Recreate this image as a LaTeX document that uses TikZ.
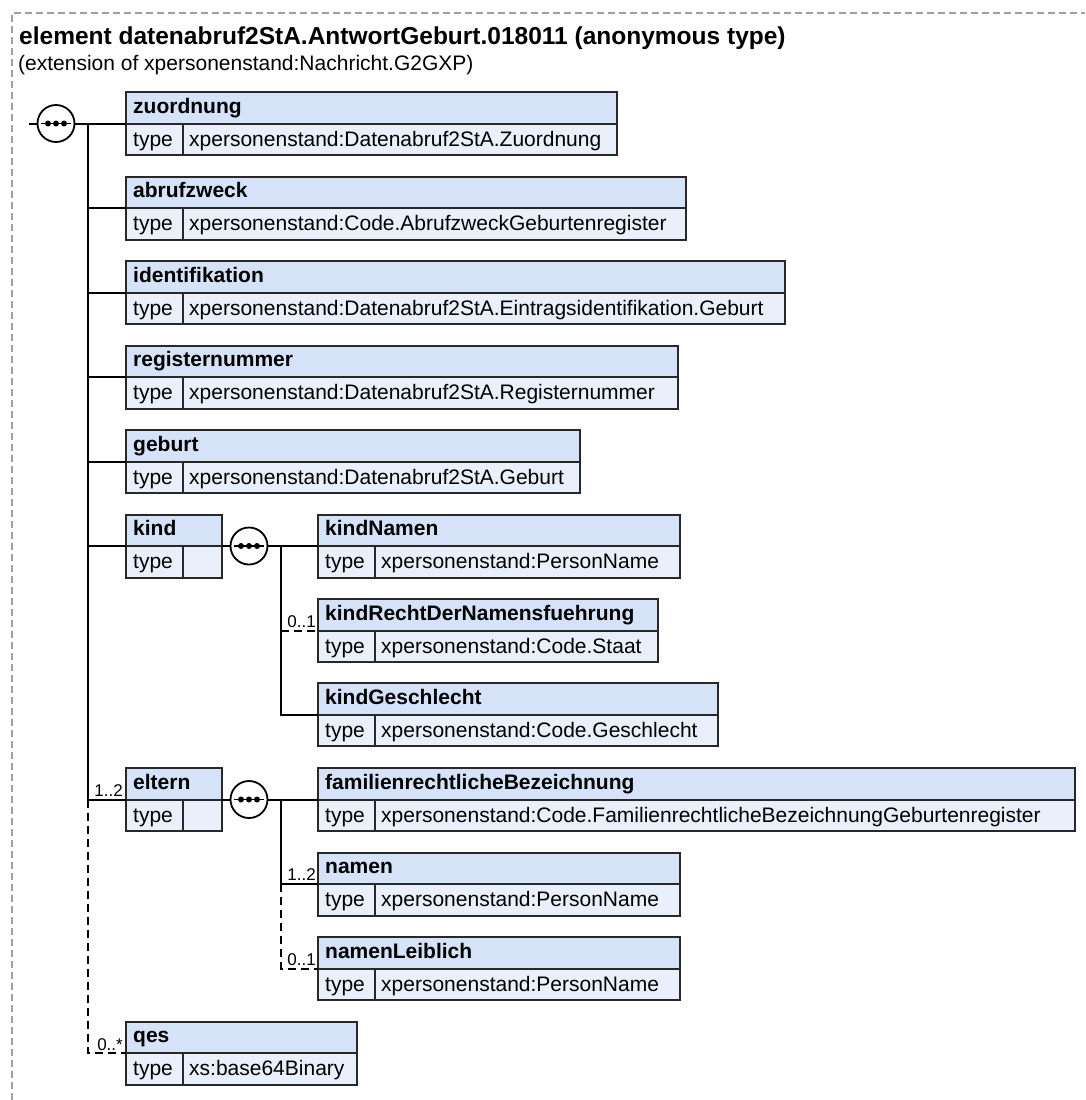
\documentclass[tikz,border=0pt]{standalone}
\usepackage{fontspec}
\setmainfont{Liberation Sans}
\definecolor{hdrfill}{RGB}{214,226,248}
\definecolor{typfill}{RGB}{233,240,251}
\definecolor{boxedge}{RGB}{40,40,40}
\definecolor{outline}{RGB}{160,160,160}
\tikzset{
 boxframe/.style={draw=boxedge, line width=2pt, rectangle, inner sep=0pt, outer sep=0pt},
 divline/.style={draw=boxedge, line width=2pt},
 hdrtext/.style={font=\fontsize{21}{24}\selectfont\bfseries, inner sep=0pt, anchor=base west},
 typtext/.style={font=\fontsize{21}{24}\selectfont, inner sep=0pt, anchor=base west},
 multtext/.style={font=\fontsize{17}{20}\selectfont, inner sep=0pt, anchor=base east},
 conn/.style={line width=2pt, black},
 optconn/.style={conn, dash pattern=on 8pt off 5pt},
 seqcirc/.style={circle, draw=black, fill=white, line width=1.8pt, minimum size=37pt, inner sep=0pt, outer sep=0pt},
 frameline/.style={draw=outline, line width=1.5pt, dash pattern=on 7pt off 4pt},
}
% #1 name, #2 left, #3 top, #4 right, #5 divider, #6 header, #7 type
\newcommand\xsbox[7]{%
  \fill[hdrfill] (#2,#3) rectangle (#4,#3+31.5);
  \fill[typfill] (#2,#3+31.5) rectangle (#4,#3+63);
  \draw[divline] (#2,#3+31.5) -- (#4,#3+31.5);
  \draw[divline] (#5,#3+31.5) -- (#5,#3+63);
  \node[boxframe, anchor=north west, minimum width=#4pt-#2pt, minimum height=63pt] (#1) at (#2,#3) {};
  \node[hdrtext] at (#2+7,#3+21) {#6};
  \node[typtext] at (#2+7,#3+54) {type};
  \node[typtext] at (#5+6,#3+54) {#7};
}
\newcommand\seqsym[3]{%
  \node[seqcirc] (#1) at (#2,#3) {};
  \draw[line width=1.5pt] ([xshift=-15pt]#1.center) -- ([xshift=15pt]#1.center);
  \fill ([xshift=-8pt]#1.center) circle (3pt);
  \fill (#1.center) circle (3pt);
  \fill ([xshift=8pt]#1.center) circle (3pt);
}
\begin{document}
\begin{tikzpicture}[x=1pt,y=-1pt]
\useasboundingbox (0,0) rectangle (1085,1100);
\draw[frameline] (12,1100) -- (12,13) -- (1085,13);

\node[anchor=base west, inner sep=0pt, font=\fontsize{24.5}{28}\selectfont\bfseries] (title) at (19,44) {element datenabruf2StA.AntwortGeburt.018011 (anonymous type)};
\node[anchor=base west, inner sep=0pt, font=\fontsize{21}{24}\selectfont] (ext) at (18,70) {(extension of xpersonenstand:Nachricht.G2GXP)};

% boxes
\xsbox{zuordnung}{126}{92}{617}{183}{zuordnung}{xpersonenstand:Datenabruf2StA.Zuordnung}
\xsbox{abrufzweck}{126}{176.5}{686}{183}{abrufzweck}{xpersonenstand:Code.AbrufzweckGeburtenregister}
\xsbox{identifikation}{126}{261}{785}{183}{identifikation}{xpersonenstand:Datenabruf2StA.Eintragsidentifikation.Geburt}
\xsbox{registernummer}{126}{345.5}{678}{183}{registernummer}{xpersonenstand:Datenabruf2StA.Registernummer}
\xsbox{geburt}{126}{430}{580}{183}{geburt}{xpersonenstand:Datenabruf2StA.Geburt}
\xsbox{kind}{126}{514.5}{222}{183}{kind}{}
\xsbox{kindNamen}{318}{514.5}{680}{375}{kindNamen}{xpersonenstand:PersonName}
\xsbox{kindRecht}{318}{599}{658}{375}{kindRechtDerNamensfuehrung}{xpersonenstand:Code.Staat}
\xsbox{kindGeschlecht}{318}{683}{718}{375}{kindGeschlecht}{xpersonenstand:Code.Geschlecht}
\xsbox{eltern}{126}{768}{222}{183}{eltern}{}
\xsbox{familien}{318}{768}{1075}{375}{familienrechtlicheBezeichnung}{xpersonenstand:Code.FamilienrechtlicheBezeichnungGeburtenregister}
\xsbox{namen}{318}{852.5}{680}{375}{namen}{xpersonenstand:PersonName}
\xsbox{namenLeiblich}{318}{937}{680}{375}{namenLeiblich}{xpersonenstand:PersonName}
\xsbox{qes}{126}{1021.5}{357}{183}{qes}{xs:base64Binary}

% sequence symbols
\seqsym{s1}{56}{123.5}
\seqsym{s2}{249}{546}
\seqsym{s3}{249}{799.5}

\coordinate (entry) at (29,123.5);
\coordinate (b1) at (88,123.5);
\coordinate (b2) at (281,546);
\coordinate (b3) at (281,799.5);

% connectors
\draw[conn] (entry) -- (s1.west);
\draw[conn] (s1.east) -- (zuordnung.west);
\draw[conn] (b1) |- (abrufzweck.west);
\draw[conn] (b1) |- (identifikation.west);
\draw[conn] (b1) |- (registernummer.west);
\draw[conn] (b1) |- (geburt.west);
\draw[conn] (b1) |- (kind.west);
\draw[conn] (b1) |- (eltern.west);
\draw[optconn] (b1 |- eltern.west) |- (qes.west);

\draw[conn] (kind.east) -- (s2.west);
\draw[conn] (s2.east) -- (kindNamen.west);
\draw[conn] (b2) |- (kindGeschlecht.west);
\draw[optconn] (b2 |- kindRecht.west) -- (kindRecht.west);

\draw[conn] (eltern.east) -- (s3.west);
\draw[conn] (s3.east) -- (familien.west);
\draw[conn] (b3) |- (namen.west);
\draw[optconn] (b3 |- namen.west) |- (namenLeiblich.west);

% multiplicities
\node[multtext] (m1) at (123,796) {1..2};
\node[multtext] (m2) at (123,1050) {0..*};
\node[multtext] (m3) at (316,627) {0..1};
\node[multtext] (m4) at (316,880) {1..2};
\node[multtext] (m5) at (316,965) {0..1};
\end{tikzpicture}
\end{document}
